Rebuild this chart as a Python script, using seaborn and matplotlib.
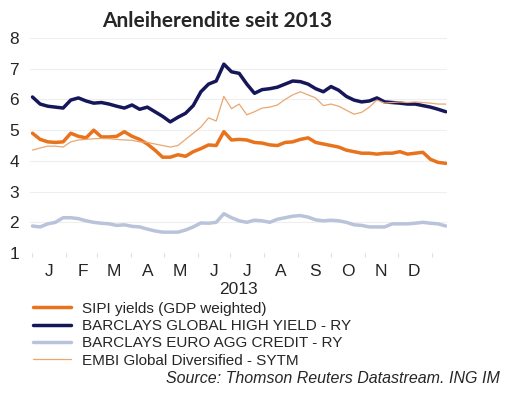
import pandas as pd
import matplotlib
matplotlib.use('Agg')
import matplotlib.pyplot as plt
import matplotlib.dates as mdates
import seaborn as sns

# Weekly observations, 1 Jan 2013 to mid Jan 2014
dates = pd.date_range("2013-01-01", periods=55, freq="7D")

sipi = [4.90, 4.70, 4.62, 4.60, 4.62, 4.90, 4.80, 4.75, 5.00, 4.78,
        4.78, 4.80, 4.95, 4.80, 4.70, 4.55, 4.35, 4.12, 4.12, 4.20,
        4.15, 4.30, 4.40, 4.52, 4.50, 4.95, 4.68, 4.70, 4.68, 4.60,
        4.58, 4.52, 4.50, 4.60, 4.62, 4.70, 4.75, 4.60, 4.55, 4.50,
        4.45, 4.35, 4.30, 4.25, 4.25, 4.22, 4.25, 4.25, 4.30, 4.22,
        4.25, 4.28, 4.05, 3.95, 3.92]

high_yield = [6.08, 5.85, 5.78, 5.75, 5.72, 5.98, 6.05, 5.95, 5.88, 5.90,
              5.85, 5.78, 5.72, 5.82, 5.68, 5.75, 5.60, 5.45, 5.27, 5.42,
              5.55, 5.80, 6.25, 6.50, 6.60, 7.15, 6.90, 6.85, 6.50, 6.20,
              6.32, 6.35, 6.40, 6.50, 6.60, 6.58, 6.50, 6.35, 6.25, 6.42,
              6.30, 6.10, 5.98, 5.92, 5.95, 6.05, 5.92, 5.90, 5.88, 5.85,
              5.85, 5.80, 5.75, 5.68, 5.60]

euro_agg = [1.88, 1.85, 1.95, 2.00, 2.15, 2.15, 2.12, 2.05, 2.00, 1.97,
            1.95, 1.90, 1.92, 1.87, 1.85, 1.78, 1.72, 1.68, 1.68, 1.68,
            1.75, 1.85, 1.98, 1.97, 2.00, 2.28, 2.15, 2.05, 2.00, 2.07,
            2.05, 2.00, 2.10, 2.15, 2.20, 2.22, 2.17, 2.08, 2.05, 2.07,
            2.05, 2.00, 1.92, 1.90, 1.85, 1.85, 1.85, 1.95, 1.95, 1.95,
            1.97, 2.00, 1.97, 1.95, 1.88]

embi = [4.35, 4.42, 4.48, 4.48, 4.45, 4.62, 4.68, 4.70, 4.72, 4.73,
        4.72, 4.70, 4.68, 4.67, 4.62, 4.60, 4.55, 4.50, 4.45, 4.50,
        4.70, 4.90, 5.10, 5.40, 5.30, 6.10, 5.70, 5.85, 5.50, 5.60,
        5.72, 5.75, 5.82, 6.00, 6.15, 6.25, 6.15, 6.05, 5.80, 5.85,
        5.78, 5.65, 5.52, 5.58, 5.75, 5.98, 5.88, 5.90, 5.92, 5.90,
        5.92, 5.90, 5.88, 5.85, 5.85]

labels = ["SIPI yields (GDP weighted)", "BARCLAYS GLOBAL HIGH YIELD - RY",
          "BARCLAYS EURO AGG CREDIT - RY", "EMBI Global Diversified - SYTM"]
colors = ["#E8731C", "#15175A", "#B9C3DA", "#E9A772"]
widths = [2.5, 2.5, 2.5, 0.9]

df = pd.DataFrame({"date": dates, labels[0]: sipi, labels[1]: high_yield,
                   labels[2]: euro_agg, labels[3]: embi})

sns.set_style("white")
plt.rcParams['font.family'] = ['Liberation Sans', 'DejaVu Sans']

fig = plt.figure(figsize=(5.05, 3.96), dpi=100)
ax = fig.add_axes([0.06, 0.361, 0.825, 0.543])

for lab, col, lw in zip(labels, colors, widths):
    sns.lineplot(data=df, x="date", y=lab, color=col, linewidth=lw, ax=ax, label=lab, legend=False)

ax.set_ylim(1, 8)
ax.set_xlim(pd.Timestamp("2012-12-30"), pd.Timestamp("2014-01-15"))
ax.set_yticks(range(1, 9))
ax.grid(axis="y", color="#eeeeee", linewidth=0.8)
ax.grid(axis="x", visible=False)
for s in ax.spines.values():
    s.set_visible(False)

# month boundaries as ticks, month initials centered mid-month
ax.xaxis.set_major_locator(mdates.MonthLocator())
ax.xaxis.set_major_formatter(plt.NullFormatter())
ax.xaxis.set_minor_locator(mdates.MonthLocator(bymonthday=16))
ax.xaxis.set_minor_formatter(plt.FuncFormatter(lambda v, p: mdates.num2date(v).strftime("%b")[0]))
ax.tick_params(axis="x", which="major", length=3, color="#dddddd", bottom=True)
ax.tick_params(axis="x", which="minor", length=0, labelsize=12.5, pad=8)
ax.tick_params(axis="y", length=0, labelsize=12.5, pad=8)
ax.set_xlabel("2013", fontsize=12.5, labelpad=2)
ax.set_ylabel("")

fig.text(0.43, 0.947, "Anleiherendite seit 2013", ha="center", va="center",
         fontsize=15, fontweight="bold", family="Lato")

handles, hl = ax.get_legend_handles_labels()
fig.legend(handles, hl, loc="upper left", bbox_to_anchor=(0.065, 0.238),
           frameon=False, fontsize=11, handlelength=2.5, handletextpad=0.7,
           labelspacing=0.22, borderpad=0, borderaxespad=0)

fig.text(0.99, 0.045, "Source: Thomson Reuters Datastream. ING IM", ha="right",
         va="center", fontsize=11.5, style="italic")

fig.savefig("out.png", dpi=100)
